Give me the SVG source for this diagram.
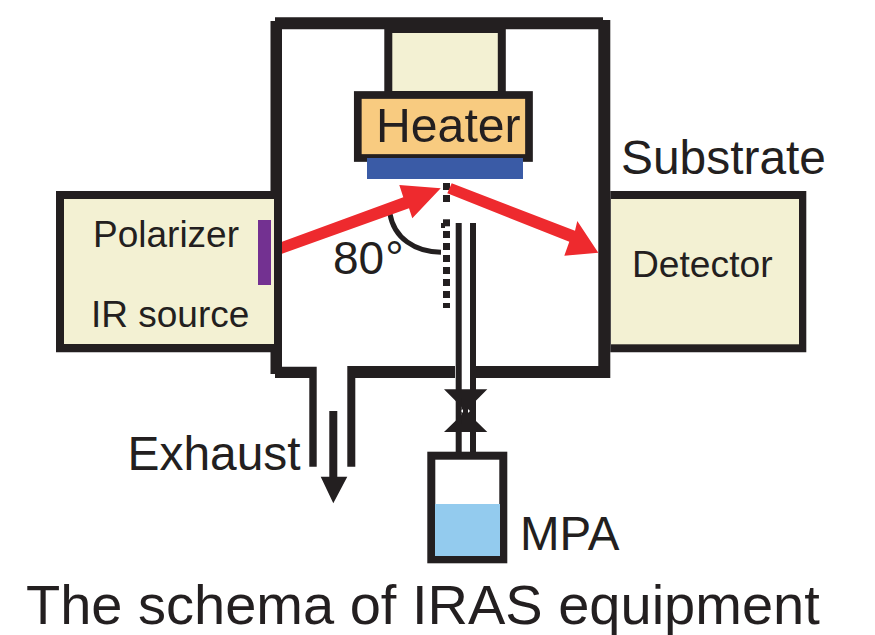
<svg xmlns="http://www.w3.org/2000/svg" width="875" height="635" viewBox="0 0 875 635">
<style>
text{font-family:"Liberation Sans",Arial,sans-serif;fill:#231f20}
.k{fill:#231f20}
.box{fill:#f3f1d3;stroke:#231f20;stroke-width:8}
.red{fill:#ee2a2e}
</style>
<rect width="875" height="635" fill="#fff"/>
<g id="chamber">
<path class="k" d="M270.500 21H275V17.300H603V20H610.300V378H476V366H598.300V29.300H282V366.700H316.700V466.700H309.300V378H275V374H270.500Z"/>
<path class="k" d="M347.300 466.700H355.300V378H455V366H347.300Z"/>
</g>
<g id="source">
<path class="k" d="M56 191H271V199H64V344H274V352.300H56Z"/>
<rect x="64" y="199" width="210" height="145" fill="#f3f1d3"/>
<rect x="258" y="220" width="13" height="65" fill="#733191"/>
<text x="93" y="247" font-size="37">Polarizer</text>
<text x="91" y="327" font-size="37">IR source</text>
</g>
<g id="detector">
<path class="k" d="M610.300 191H806.300V352.300H610.300Z"/>
<rect x="611" y="199" width="188" height="145.300" fill="#f3f1d3"/>
<text x="632" y="277" font-size="37.200">Detector</text>
</g>
<g id="heater">
<rect x="388.300" y="29" width="113.500" height="66" class="box"/>
<rect x="357.800" y="95" width="171.200" height="63" fill="#f8cb80" stroke="#231f20" stroke-width="7.700"/>
<rect x="367" y="158" width="156" height="21" fill="#3a5ba6"/>
<text x="376" y="142" font-size="48.200">Heater</text>
</g>
<g id="connectors">
<g class="k">
<rect x="443" y="183" width="7" height="7"/><rect x="443" y="195" width="7" height="7"/>
<rect x="443" y="219.300" width="7" height="7"/><rect x="441" y="223" width="4" height="5"/>
<rect x="443" y="231" width="7" height="7"/><rect x="443" y="243" width="7" height="7"/>
<rect x="443" y="255" width="7" height="7"/><rect x="443" y="267" width="7" height="7"/>
<rect x="443" y="279" width="7" height="7"/><rect x="443" y="291" width="7" height="7"/>
<rect x="443" y="303" width="7" height="5"/>
<rect x="455.700" y="223" width="6" height="229"/><rect x="470" y="223" width="6" height="229"/>
<path d="M329.300 411H337.300V476.700H347.300L333.300 503.300L320.700 476.700H329.300Z"/>
<path d="M444 389.300H487.300L465.700 411ZM444 432H487.300L465.700 411Z"/>
<rect x="461.700" y="398" width="8.300" height="26"/>
</g>
<path d="M461 411l2-2v4ZM470 411l-2-2v4Z" fill="#fff"/>
<path d="M390 214C394 238 415 252 441 252.300" fill="none" stroke="#231f20" stroke-width="5"/>
<path class="red" d="M282 241.700L403.300 197.300L399.300 185L440.700 188.300L412.300 218.300L409 208.300L282 253.700Z"/>
<path class="red" d="M451.700 183.300L575 230.700L577.300 221L598.300 252.700L564.300 255.700L569.300 241.700L447.300 193.300Z"/>
</g>
<g id="bottle">
<rect x="431.300" y="455.700" width="72" height="103.600" fill="#fff" stroke="#231f20" stroke-width="8"/>
<rect x="435" y="504" width="65" height="52" fill="#93cbee"/>
</g>
<g id="labels">
<text x="333" y="273.500" font-size="46">80<tspan dx="1">°</tspan></text>
<text x="621" y="174" font-size="47.900">Substrate</text>
<text x="127.500" y="470" font-size="47.900">Exhaust</text>
<text x="520" y="550" font-size="47.500">MPA</text>
<text x="26" y="624" font-size="56">The schema of IRAS equipment</text>
</g>
</svg>
